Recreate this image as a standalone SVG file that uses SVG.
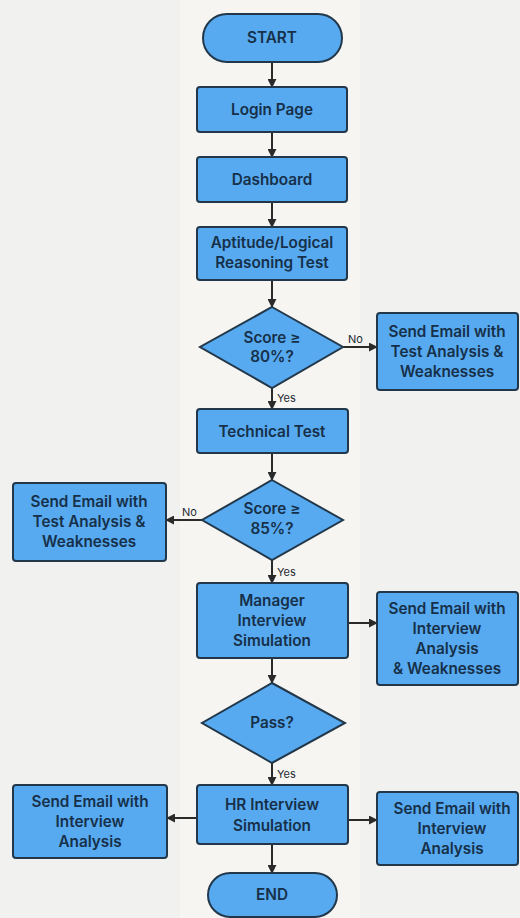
<svg xmlns="http://www.w3.org/2000/svg" width="520" height="918" viewBox="0 0 520 918">
<style>
.n{fill:#58aaf0;stroke:#22384a;stroke-width:2}
.t{font-family:Inter,"Liberation Sans",sans-serif;font-size:15.3px;font-weight:600;fill:#163049;text-anchor:middle}
.l{font-family:Inter,"Liberation Sans",sans-serif;font-size:11px;fill:#1e2a33}
.c{stroke:#2a2a2a;stroke-width:2;fill:none;marker-end:url(#a)}
</style>
<defs>
<marker id="a" viewBox="0 0 10 10" refX="9" refY="5" markerWidth="4.5" markerHeight="4.5" orient="auto" markerUnits="strokeWidth">
<path d="M0,0 L10,5 L0,10 z" fill="#2a2a2a"/>
</marker>
</defs>
<rect width="520" height="918" fill="#f1f1ef"/>
<rect x="180" y="0" width="180" height="918" fill="#f6f5f2"/>
<g id="connectors">
<line class="c" x1="272" y1="62" x2="272" y2="87"/>
<line class="c" x1="272" y1="132" x2="272" y2="157"/>
<line class="c" x1="272" y1="202" x2="272" y2="227"/>
<line class="c" x1="272" y1="280" x2="272" y2="307"/>
<line class="c" x1="343" y1="347" x2="377" y2="347"/>
<text class="l" x="348" y="343">No</text>
<line class="c" x1="272" y1="388" x2="272" y2="409"/>
<text class="l" x="277" y="402">Yes</text>
<line class="c" x1="272" y1="453" x2="272" y2="480"/>
<line class="c" x1="202" y1="520" x2="166" y2="520"/>
<text class="l" x="182" y="516">No</text>
<line class="c" x1="272" y1="560" x2="272" y2="583"/>
<text class="l" x="277" y="576">Yes</text>
<line class="c" x1="348" y1="623" x2="377" y2="623"/>
<line class="c" x1="272" y1="658" x2="272" y2="683"/>
<line class="c" x1="272" y1="763" x2="272" y2="785"/>
<text class="l" x="277" y="778">Yes</text>
<line class="c" x1="197" y1="818" x2="167" y2="818"/>
<line class="c" x1="348" y1="820" x2="377" y2="820"/>
<line class="c" x1="272" y1="844" x2="272" y2="873"/>
</g>
<g id="start">
<rect class="n" x="203" y="14" width="139" height="48" rx="24"/>
<text class="t" x="272" y="43">START</text>
</g>
<g id="login">
<rect class="n" x="197" y="87" width="150" height="45" rx="3"/>
<text class="t" x="272" y="115">Login Page</text>
</g>
<g id="dashboard">
<rect class="n" x="197" y="157" width="150" height="45" rx="3"/>
<text class="t" x="272" y="185">Dashboard</text>
</g>
<g id="aptitude">
<rect class="n" x="197" y="227" width="150" height="53" rx="3"/>
<text class="t" x="272" y="248">Aptitude/Logical</text>
<text class="t" x="272" y="268">Reasoning Test</text>
</g>
<g id="score80">
<polygon class="n" points="272,307 343,347 272,388 200,347"/>
<text class="t" x="272" y="343">Score ≥</text>
<text class="t" x="272" y="362">80%?</text>
</g>
<g id="email1">
<rect class="n" x="377" y="313" width="141" height="77" rx="3"/>
<text class="t" x="447" y="337">Send Email with</text>
<text class="t" x="447" y="357">Test Analysis &amp;</text>
<text class="t" x="447" y="377">Weaknesses</text>
</g>
<g id="technical">
<rect class="n" x="197" y="409" width="151" height="44" rx="3"/>
<text class="t" x="272" y="437">Technical Test</text>
</g>
<g id="score85">
<polygon class="n" points="272,480 343,520 272,560 202,520"/>
<text class="t" x="272" y="514">Score ≥</text>
<text class="t" x="272" y="534">85%?</text>
</g>
<g id="email2">
<rect class="n" x="13" y="483" width="153" height="78" rx="3"/>
<text class="t" x="89" y="507">Send Email with</text>
<text class="t" x="89" y="527">Test Analysis &amp;</text>
<text class="t" x="89" y="547">Weaknesses</text>
</g>
<g id="manager">
<rect class="n" x="197" y="583" width="151" height="75" rx="3"/>
<text class="t" x="272" y="606">Manager</text>
<text class="t" x="272" y="626">Interview</text>
<text class="t" x="272" y="646">Simulation</text>
</g>
<g id="email3">
<rect class="n" x="377" y="592" width="141" height="93" rx="3"/>
<text class="t" x="447" y="614">Send Email with</text>
<text class="t" x="447" y="634">Interview</text>
<text class="t" x="447" y="654">Analysis</text>
<text class="t" x="447" y="674">&amp; Weaknesses</text>
</g>
<g id="pass">
<polygon class="n" points="272,683 345,723 272,763 202,723"/>
<text class="t" x="272" y="728">Pass?</text>
</g>
<g id="hr">
<rect class="n" x="197" y="785" width="151" height="59" rx="3"/>
<text class="t" x="272" y="810">HR Interview</text>
<text class="t" x="272" y="831">Simulation</text>
</g>
<g id="email4">
<rect class="n" x="13" y="785" width="154" height="73" rx="3"/>
<text class="t" x="90" y="807">Send Email with</text>
<text class="t" x="90" y="827">Interview</text>
<text class="t" x="90" y="847">Analysis</text>
</g>
<g id="email5">
<rect class="n" x="377" y="792" width="141" height="73" rx="3"/>
<text class="t" x="452" y="814">Send Email with</text>
<text class="t" x="452" y="834">Interview</text>
<text class="t" x="452" y="854">Analysis</text>
</g>
<g id="end">
<rect class="n" x="208" y="873" width="129" height="44" rx="22"/>
<text class="t" x="272" y="900">END</text>
</g>
</svg>
